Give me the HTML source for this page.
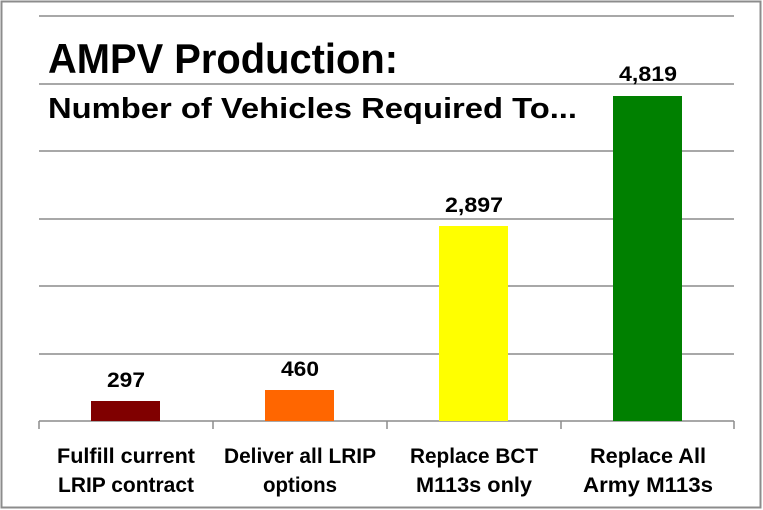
<!DOCTYPE html>
<html><head><style>body{margin:0;background:#fff}svg{display:block}</style></head>
<body>
<svg width="763" height="510" viewBox="0 0 763 510" xmlns="http://www.w3.org/2000/svg" font-family="Liberation Sans, sans-serif" font-weight="bold">
<rect x="1.5" y="1.5" width="759" height="506" fill="#fff" stroke="#8c8c8c" stroke-width="2"/>
<g stroke="#8c8c8c" stroke-width="1.5">
<line x1="39" y1="16" x2="734" y2="16"/>
<line x1="39" y1="84" x2="734" y2="84"/>
<line x1="39" y1="151" x2="734" y2="151"/>
<line x1="39" y1="219" x2="734" y2="219"/>
<line x1="39" y1="286" x2="734" y2="286"/>
<line x1="39" y1="354" x2="734" y2="354"/>
<line x1="39" y1="421" x2="734" y2="421"/>
<line x1="39" y1="421" x2="39" y2="429"/>
<line x1="213" y1="421" x2="213" y2="429"/>
<line x1="387" y1="421" x2="387" y2="429"/>
<line x1="561" y1="421" x2="561" y2="429"/>
<line x1="734" y1="421" x2="734" y2="429"/>
</g>
<rect x="91" y="401" width="69" height="20" fill="#800000"/>
<rect x="265" y="390" width="69" height="31" fill="#ff6600"/>
<rect x="439" y="226" width="69" height="195" fill="#ffff00"/>
<rect x="613" y="96" width="69" height="325" fill="#008000"/>
<text x="48" y="73" font-size="42" textLength="350" lengthAdjust="spacingAndGlyphs">AMPV Production:</text>
<text x="48" y="118" font-size="29" textLength="529" lengthAdjust="spacingAndGlyphs">Number of Vehicles Required To...</text>
<g font-size="21" text-anchor="middle">
<text x="126" y="387" textLength="38" lengthAdjust="spacingAndGlyphs">297</text>
<text x="300" y="376" textLength="38" lengthAdjust="spacingAndGlyphs">460</text>
<text x="474" y="212" textLength="58" lengthAdjust="spacingAndGlyphs">2,897</text>
<text x="648" y="81" textLength="58" lengthAdjust="spacingAndGlyphs">4,819</text>
</g>
<g font-size="21" text-anchor="middle">
<text x="126" y="463" textLength="138" lengthAdjust="spacingAndGlyphs">Fulfill current</text>
<text x="126" y="492" textLength="136" lengthAdjust="spacingAndGlyphs">LRIP contract</text>
<text x="300" y="463" textLength="152" lengthAdjust="spacingAndGlyphs">Deliver all LRIP</text>
<text x="300" y="492" textLength="74" lengthAdjust="spacingAndGlyphs">options</text>
<text x="474" y="463" textLength="128" lengthAdjust="spacingAndGlyphs">Replace BCT</text>
<text x="474" y="492" textLength="116" lengthAdjust="spacingAndGlyphs">M113s only</text>
<text x="648" y="463" textLength="116" lengthAdjust="spacingAndGlyphs">Replace All</text>
<text x="648" y="492" textLength="130" lengthAdjust="spacingAndGlyphs">Army M113s</text>
</g>
</svg>
</body></html>
